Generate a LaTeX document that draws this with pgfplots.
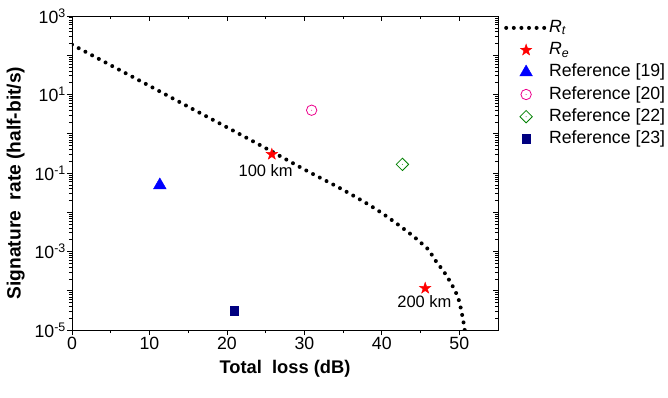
\documentclass[border=0pt]{standalone}
\usepackage{fontspec}
\setmainfont{Liberation Sans}
\usepackage{pgfplots}
\pgfplotsset{compat=1.18}
\usetikzlibrary{plotmarks}
\definecolor{navyc}{RGB}{0,0,128}
\definecolor{greenc}{RGB}{0,128,0}
\pgfdeclareplotmark{fstar}{%
 \pgfpathmoveto{\pgfpointpolar{90}{\pgfplotmarksize}}%
 \pgfpathlineto{\pgfpointpolar{126}{0.40\pgfplotmarksize}}%
 \pgfpathlineto{\pgfpointpolar{162}{\pgfplotmarksize}}%
 \pgfpathlineto{\pgfpointpolar{198}{0.40\pgfplotmarksize}}%
 \pgfpathlineto{\pgfpointpolar{234}{\pgfplotmarksize}}%
 \pgfpathlineto{\pgfpointpolar{270}{0.40\pgfplotmarksize}}%
 \pgfpathlineto{\pgfpointpolar{306}{\pgfplotmarksize}}%
 \pgfpathlineto{\pgfpointpolar{342}{0.40\pgfplotmarksize}}%
 \pgfpathlineto{\pgfpointpolar{18}{\pgfplotmarksize}}%
 \pgfpathlineto{\pgfpointpolar{54}{0.40\pgfplotmarksize}}%
 \pgfpathclose\pgfusepathqfillstroke}
\pgfdeclareplotmark{ocdot}{%
 \pgfpathcircle{\pgfpointorigin}{\pgfplotmarksize}\pgfusepathqstroke
 \pgfpathcircle{\pgfpointorigin}{0.45pt}\pgfusepathqfill}
\pgfdeclareplotmark{odiamdot}{%
 \pgfpathmoveto{\pgfqpoint{0pt}{\pgfplotmarksize}}%
 \pgfpathlineto{\pgfqpoint{\pgfplotmarksize}{0pt}}%
 \pgfpathlineto{\pgfqpoint{0pt}{-\pgfplotmarksize}}%
 \pgfpathlineto{\pgfqpoint{-\pgfplotmarksize}{0pt}}%
 \pgfpathclose\pgfusepathqstroke
 \pgfpathcircle{\pgfpointorigin}{0.45pt}\pgfusepathqfill}
\pgfplotsset{
 common/.style={
  scale only axis, width=426pt, height=314pt,
  xmin=0, xmax=55, ymin=1e-5, ymax=1e3,
  axis line style={line width=0.9pt},
  xtick={0,10,20,30,40,50}, minor xtick={5,15,25,35,45},
  ytick={1e-5,1e-4,1e-3,1e-2,1e-1,1,1e1,1e2,1e3},
  minor ytick={2e-5,3e-5,4e-5,5e-5,6e-5,7e-5,8e-5,9e-5,
   2e-4,3e-4,4e-4,5e-4,6e-4,7e-4,8e-4,9e-4,
   2e-3,3e-3,4e-3,5e-3,6e-3,7e-3,8e-3,9e-3,
   2e-2,3e-2,4e-2,5e-2,6e-2,7e-2,8e-2,9e-2,
   2e-1,3e-1,4e-1,5e-1,6e-1,7e-1,8e-1,9e-1,
   2,3,4,5,6,7,8,9,20,30,40,50,60,70,80,90,200,300,400,500,600,700,800,900},
  major tick length=5pt, minor tick length=3pt,
  every tick/.style={line width=0.8pt, black},
  every minor tick/.style={line width=0.6pt, black},
 }
}
\begin{document}
\begin{tikzpicture}
\begin{axis}[ymode=log, common,
  tick align=outside, xtick pos=left, ytick pos=left,
  /pgf/number format/assume math mode=true,
  tick label style={font=\fontsize{17.7}{20}\selectfont},
  xticklabel style={inner sep=1pt, yshift=-1pt},
  yticklabel style={inner sep=1pt},
  yticklabels={10\textsuperscript{-5},,10\textsuperscript{-3},,10\textsuperscript{-1},,10\textsuperscript{1},,10\textsuperscript{3}},
  xlabel={\textbf{Total\ \ loss (dB)}},
  ylabel={\textbf{Signature\ \ rate (half-bit/s)}},
  x label style={font=\fontsize{18.3}{21}\selectfont, at={(axis description cs:0.5,-0.124)}, anchor=center},
  y label style={font=\fontsize{19.2}{22}\selectfont, at={(axis description cs:-0.132,0.468)}, anchor=center},
  legend style={draw=none, fill=none, at={(1,1)}, anchor=north west,
    xshift=6pt, yshift=-2.2pt, inner sep=0pt, row sep=3.2pt,
    font=\fontsize{17.7}{20}\selectfont,
    nodes={inner sep=1pt, text height=13pt, text depth=4pt},
    /tikz/every even column/.append style={column sep=10pt}},
  legend cell align=left,
  legend image code/.code={\draw[mark repeat=2,mark phase=2,#1] plot coordinates {(0cm,0cm) (0.7cm,0cm) (1.4cm,0cm)};},
]
\addplot[black, line width=4pt, line cap=round, dash pattern=on 0pt off 7.6pt, smooth] coordinates {
 (0,187) (5,55.6) (10,16.6) (15,4.90) (20,1.462) (25,0.430) (30,0.123)
 (33,0.0603) (35,0.0372) (38,0.0170) (40,0.00955) (42,0.00501) (44,0.00251)
 (45,0.00170) (46,0.00112) (47,5.62e-4) (48,3.09e-4) (49,1.48e-4)
 (49.8,7.08e-5) (50.2,3.55e-5) (50.5,1.78e-5) (50.7,1.0e-5)
};
\addlegendentry{\textit{R}\textsubscript{\textit{t}}}
\addplot[only marks, mark=fstar, mark size=6pt, draw=red, fill=red, mark options={line width=0.4pt}] coordinates {(25.8,0.30) (45.6,1.16e-4)};
\addlegendentry{\textit{R}\textsubscript{\textit{e}}}
\addplot[only marks, mark=triangle*, mark size=7.3pt, draw=blue, fill=blue, mark options={line width=0.4pt}] coordinates {(11.34,0.049)};
\addlegendentry{Reference [19]}
\addplot[only marks, mark=ocdot, mark size=5.2pt, draw=magenta, fill=magenta, mark options={line width=0.8pt}] coordinates {(30.94,3.98)};
\addlegendentry{Reference [20]}
\addplot[only marks, mark=odiamdot, mark size=6.2pt, draw=greenc, fill=greenc, mark options={line width=0.8pt}] coordinates {(42.66,0.166)};
\addlegendentry{Reference [22]}
\addplot[only marks, mark=square*, mark size=4.3pt, draw=navyc, fill=navyc, mark options={line width=0.4pt}] coordinates {(20.95,3.06e-5)};
\addlegendentry{Reference [23]}
\node[font=\fontsize{16.5}{19}\selectfont] at (axis cs:25.0,0.112) {100 km};
\node[font=\fontsize{16.5}{19}\selectfont] at (axis cs:45.5,5.19e-5) {200 km};
\end{axis}
\begin{axis}[ymode=log, common, tick align=inside, xtick pos=right, ytick pos=right,
  xticklabels={}, yticklabels={}]
\end{axis}
\pgfresetboundingbox
\path (-72pt,-67pt) rectangle (596pt,330pt);
\end{tikzpicture}
\end{document}
